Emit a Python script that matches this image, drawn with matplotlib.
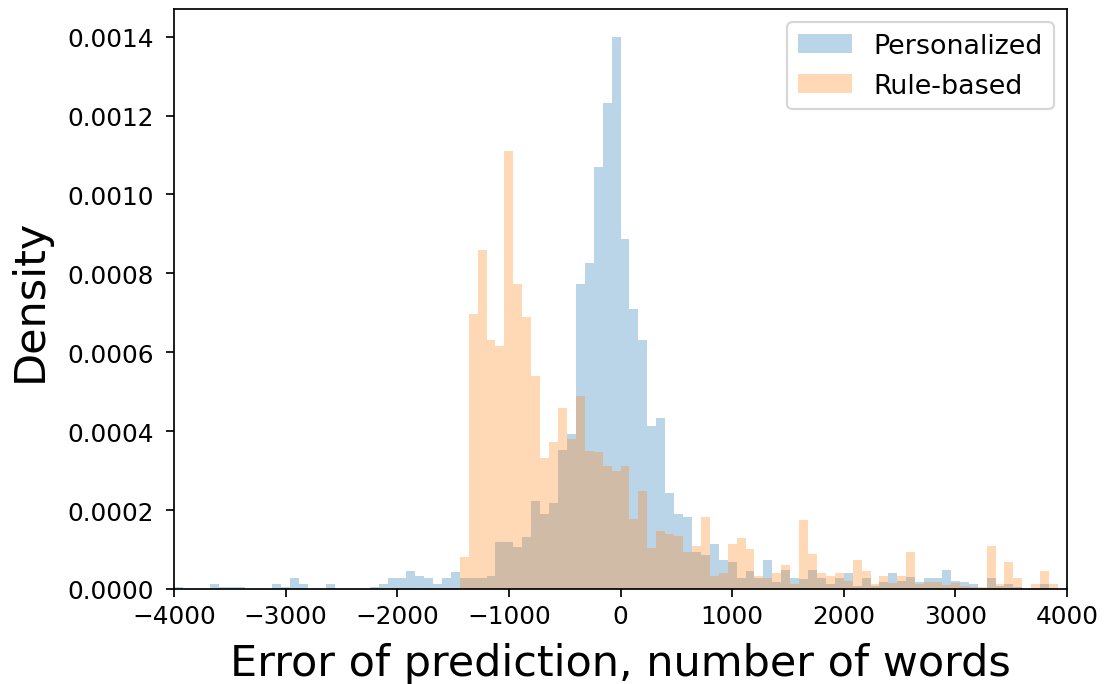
import numpy as np
import matplotlib
matplotlib.use("Agg")
import matplotlib.pyplot as plt

# Histogram bins (width 80 words, from -4000 to 4000)
bin_start = -4000
bin_stop = 4000
bin_width = 80

# Densities per bin, in units of 1e-4
personalized = [
    0.06, 0, 0, 0, 0.125, 0.06, 0.06, 0.06, 0, 0,
    0, 0.125, 0.06, 0.27, 0.125, 0, 0, 0.125, 0, 0,
    0, 0, 0.06, 0.125, 0.27, 0.27, 0.46, 0.33, 0.27, 0.125,
    0.27, 0.42, 0.28, 0.28, 0.28, 0.33, 1.19, 1.19, 1.07, 1.33,
    2.24, 1.9, 2.17, 3.52, 3.93, 7.72, 8.25, 10.69, 12.32, 14.0,
    8.87, 7.1, 6.3, 4.14, 4.33, 2.43, 1.9, 1.83, 0.95, 0.86,
    1.14, 0.73, 0.68, 0.27, 0.46, 0.27, 0.73, 0.18, 0.47, 0.27,
    0.25, 0.47, 0.27, 0.125, 0.27, 0.4, 0.08, 0.27, 0.08, 0.18,
    0.4, 0.2, 0.3, 0.18, 0.27, 0.27, 0.47, 0.2, 0.18, 0.125,
    0, 0.27, 0.07, 0.125, 0.06, 0, 0, 0.125, 0, 0,
]
rule_based = [
    0, 0, 0, 0, 0, 0, 0, 0, 0, 0,
    0, 0, 0, 0, 0, 0, 0, 0, 0, 0,
    0, 0, 0, 0, 0, 0, 0, 0, 0, 0,
    0, 0, 0.82, 6.97, 8.59, 6.31, 6.17, 11.11, 7.72, 6.9,
    5.4, 3.32, 3.72, 4.6, 3.8, 4.88, 3.51, 3.47, 3.12, 2.98,
    3.11, 1.77, 2.49, 1.03, 1.48, 1.39, 1.35, 0.94, 1.09, 1.83,
    0.33, 0.4, 1.14, 1.29, 1.01, 0.33, 0.27, 0.4, 0.62, 0.125,
    1.75, 0.88, 0.4, 0.33, 0.4, 0.21, 0.74, 0.46, 0.125, 0.33,
    0.16, 0.33, 0.94, 0.125, 0.18, 0.18, 0.1, 0.14, 0.08, 0.04,
    0.06, 1.09, 0.125, 0.68, 0.27, 0, 0.125, 0.46, 0.125, 0,
]
series_labels = ["Personalized", "Rule-based"]
x_ticks = [-4000, -3000, -2000, -1000, 0, 1000, 2000, 3000, 4000]
y_ticks = [0.0, 0.0002, 0.0004, 0.0006, 0.0008, 0.0010, 0.0012, 0.0014]

edges = np.arange(bin_start, bin_stop + bin_width, bin_width)
centers = (edges[:-1] + edges[1:]) / 2.0

dpi = 155
fig = plt.figure(figsize=(1104 / dpi, 685 / dpi), dpi=dpi)
ax = fig.add_axes([174 / 1104, 1 - 590 / 685, (1067 - 174) / 1104, (590 - 10) / 685])

ax.hist(centers, bins=edges, weights=np.array(personalized) * 1e-4,
        alpha=0.3, color="#1f77b4", label=series_labels[0])
ax.hist(centers, bins=edges, weights=np.array(rule_based) * 1e-4,
        alpha=0.3, color="#ff7f0e", label=series_labels[1])

ax.set_xlim(-4000, 4000)
ax.set_ylim(0, 0.00147)
ax.set_xticks(x_ticks)
ax.set_yticks(y_ticks)
ax.set_yticklabels([f"{v:.4f}" for v in y_ticks])
ax.tick_params(labelsize=11.5)
ax.tick_params(axis="y", pad=6)
ax.set_xlabel("Error of prediction, number of words", fontsize=20, labelpad=6.5)
ax.set_ylabel("Density", fontsize=20, labelpad=7.5)
ax.legend(loc="upper right", fontsize=12.5)

fig.savefig("out.png", dpi=dpi)
